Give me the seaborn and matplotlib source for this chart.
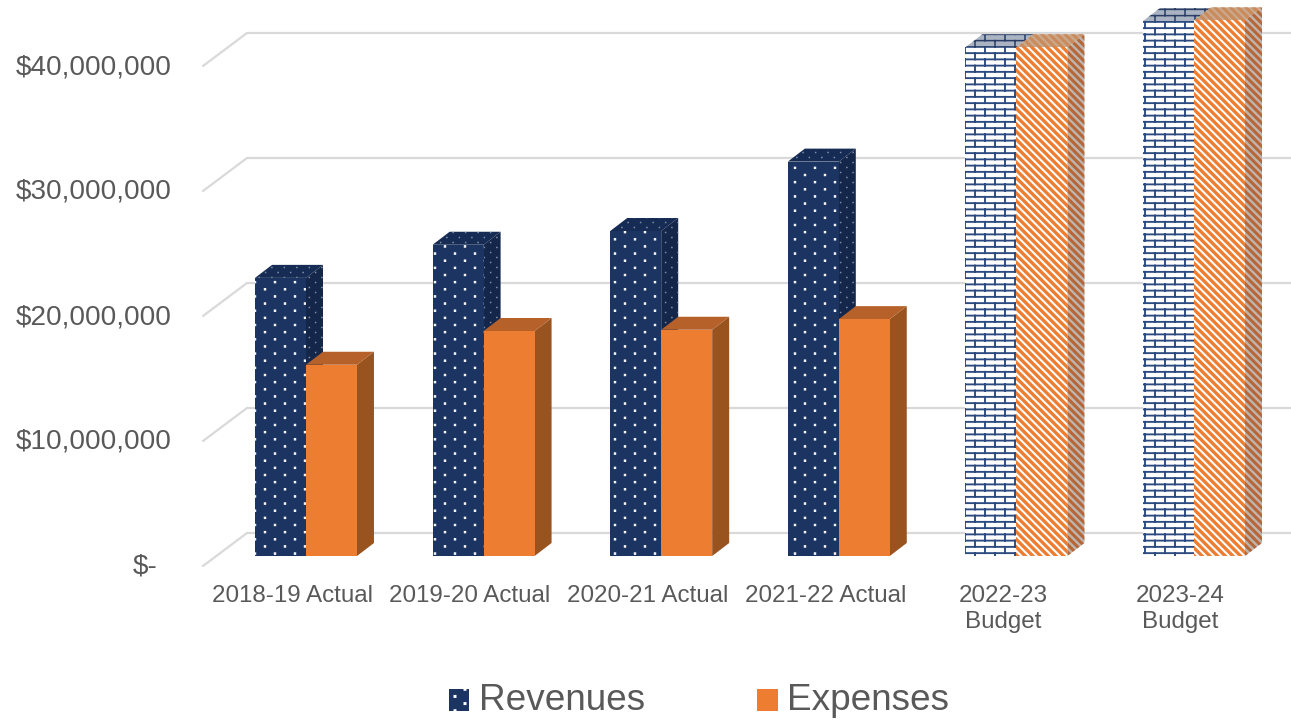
import warnings
import numpy as np
import pandas as pd
import seaborn as sns
import matplotlib
matplotlib.use('Agg')
import matplotlib.pyplot as plt
import matplotlib.hatch as mhatch
from matplotlib.patches import Patch, Polygon
from matplotlib.path import Path
from matplotlib.transforms import ScaledTranslation

warnings.filterwarnings('ignore')

years = ['2018-19 Actual', '2019-20 Actual', '2020-21 Actual', '2021-22 Actual',
         '2022-23\nBudget', '2023-24\nBudget']
revenues = [22.25e6, 24.9e6, 26.0e6, 31.55e6, 40.7e6, 42.8e6]
expenses = [15.3e6, 18.0e6, 18.1e6, 18.95e6, 40.7e6, 42.85e6]
budget_flag = [False, False, False, False, True, True]
tick_values = [0, 10e6, 20e6, 30e6, 40e6]
tick_labels = ['$-', '$10,000,000', '$20,000,000', '$30,000,000', '$40,000,000']

NAVY = '#1c3461'
ORANGE = '#ed7d31'
GREY = '#595959'
W, H, DPI = 1291, 721, 100


# excel style pattern fills, matplotlib has no bricks or staggered dots
class ExcelHatch(mhatch.HatchPatternBase):
    def __init__(self, hatch, density):
        self.segs = []
        self.dots = []
        if 'b' in hatch:
            rows, cols = 16, 5
            for j in range(rows):
                y0, y1 = (j + .5) / rows, (j + 1.5) / rows
                self.segs.append(((0, y0), (1, y0)))
                for k in range(cols):
                    x = (k + (.25 if j % 2 else .75)) / cols
                    self.segs.append(((x, y0), (x, min(y1, 1))))
                    if j == rows - 1:
                        self.segs.append(((x, 0), (x, .5 / rows)))
        if 's' in hatch:
            for s in np.linspace(-1, 1, 27):
                self.segs.append(((s, 1), (s + 1, 0)))
        if 'd' in hatch or 'e' in hatch:
            rows, cols, r = (14, 5, .008) if 'd' in hatch else (20, 8, .004)
            for j in range(rows):
                for k in range(cols):
                    self.dots.append(((k + (.25 if j % 2 else .75)) / cols, (j + .5) / rows, r))
        self.num_vertices = 2 * len(self.segs) + 5 * len(self.dots)

    def set_vertices_and_codes(self, vertices, codes):
        i = 0
        for a, b in self.segs:
            vertices[i] = a
            vertices[i + 1] = b
            codes[i] = Path.MOVETO
            codes[i + 1] = Path.LINETO
            i += 2
        for x, y, r in self.dots:
            vertices[i:i + 5] = [(x - r, y - r), (x + r, y - r), (x + r, y + r), (x - r, y + r), (x - r, y - r)]
            codes[i:i + 5] = [Path.MOVETO, Path.LINETO, Path.LINETO, Path.LINETO, Path.CLOSEPOLY]
            i += 5


mhatch._hatch_types.append(ExcelHatch)

sns.set_theme(style='white')
plt.rcParams['font.family'] = ['Liberation Sans', 'DejaVu Sans']

df = pd.DataFrame({'year': years * 2,
                   'value': revenues + expenses,
                   'series': ['Revenues'] * 6 + ['Expenses'] * 6})

fig = plt.figure(figsize=(W / DPI, H / DPI), dpi=DPI)
# axes: category spacing 177.6 px, 125 px per 10M, baseline at y=556 px
cat_px = 177.6
left = 306 - cat_px / 2
ax = fig.add_axes([left / W, (H - 556) / H, 6 * cat_px / W, 556 / H])
sns.barplot(data=df, x='year', y='value', hue='series', palette=[NAVY, ORANGE],
            width=.574, gap=0, saturation=1, legend=False, ax=ax)
ax.set_xlim(-.5, 5.5)
ax.set_ylim(0, 556 / 125 * 1e7)
ax.set_xlabel('')
ax.set_ylabel('')
sns.despine(ax=ax, left=True, bottom=True)

dx = 1 / cat_px          # one pixel in x data units
dy = 1e7 / 125           # one pixel in y data units

# back wall grid and the floor diagonals
wall_x0 = -(306 - 247) * dx
wall_x1 = (W - 306) * dx
front_x = -(306 - 203) * dx
for v in tick_values:
    back = v + 23 * dy
    front = v - 10 * dy
    ax.plot([front_x, wall_x0, wall_x1], [front, back, back], color='#d9d9d9', lw=1.6,
            clip_on=False, zorder=1, solid_joinstyle='miter')

# bar faces, depth is 17 px across and 13 px up
depth_x, depth_y = 17 * dx, 13 * dy
side_solid = ['#14264a', '#99531f']
top_solid = ['#172c55', '#b6612a']
for s, cont in enumerate(ax.containers):
    z = 3 + s
    for bar, budget in zip(cont.patches, budget_flag):
        x0, x1, h = bar.get_x(), bar.get_x() + bar.get_width(), bar.get_height()
        side = Polygon([(x1, 0), (x1 + depth_x, depth_y), (x1 + depth_x, h + depth_y), (x1, h)],
                       clip_on=False, zorder=z, lw=0)
        top = Polygon([(x0, h), (x0 + depth_x, h + depth_y), (x1 + depth_x, h + depth_y), (x1, h)],
                      clip_on=False, zorder=z, lw=0)
        bar.set_zorder(z + .1)
        bar.set_linewidth(0)
        if budget:
            bar.set_facecolor('white')
            if s == 0:
                bar.set_edgecolor('#2b4a80')
                bar.set_hatch('b')
                bar.set_hatch_linewidth(1.35)
                side.set(facecolor='#b5bcc8', edgecolor='#22385f', hatch='b')
                top.set(facecolor='#aab3c2', edgecolor='#2b3f66', hatch='b')
                side.set_hatch_linewidth(1.1)
                top.set_hatch_linewidth(1.1)
            else:
                bar.set_edgecolor(ORANGE)
                bar.set_hatch('s')
                bar.set_hatch_linewidth(2.4)
                side.set(facecolor='#bdb6b0', edgecolor='#b5673a', hatch='s')
                top.set(facecolor='#c9a88c', edgecolor='#c98a5c', hatch='s')
                side.set_hatch_linewidth(2.2)
                top.set_hatch_linewidth(2.2)
        else:
            side.set_facecolor(side_solid[s])
            top.set_facecolor(top_solid[s])
            if s == 0:
                bar.set_edgecolor('white')
                bar.set_hatch('d')
                bar.set_hatch_linewidth(.6)
                side.set(edgecolor='#7f8da6', hatch='e')
                top.set(edgecolor='#7f8da6', hatch='e')
                side.set_hatch_linewidth(.5)
                top.set_hatch_linewidth(.5)
            else:
                bar.set_edgecolor(ORANGE)
        ax.add_patch(side)
        ax.add_patch(top)

# ticks
ax.set_yticks(tick_values)
ax.set_yticklabels(tick_labels)
ax.tick_params(axis='y', length=0, pad=32.5, labelsize=20.1, labelcolor=GREY)
ax.tick_params(axis='x', length=0, pad=21, labelsize=17.4, labelcolor=GREY)
ax.grid(False)
px = 1 / DPI
for lab, v in zip(ax.get_yticklabels(), tick_values):
    shift_x = -15 * px if v == 0 else 0
    lab.set_transform(lab.get_transform() + ScaledTranslation(shift_x, -8 * px, fig.dpi_scale_trans))
for lab in ax.get_xticklabels():
    lab.set_linespacing(1.25)
    lab.set_transform(lab.get_transform() + ScaledTranslation(-13.5 * px, 0, fig.dpi_scale_trans))

# legend
handles = [Patch(facecolor=NAVY, edgecolor='white', hatch='d', lw=0, label='Revenues'),
           Patch(facecolor=ORANGE, edgecolor=ORANGE, lw=0, label='Expenses')]
leg = fig.legend(handles=handles, loc='center', bbox_to_anchor=(699 / W, 1 - 701 / H), ncol=2, frameon=False,
                 fontsize=26.6, labelcolor=GREY, handlelength=.55, handleheight=.55,
                 handletextpad=.25, columnspacing=3.05, borderpad=0, borderaxespad=0)
for h in leg.legend_handles:
    h.set_y(h.get_y() - 2)

fig.savefig('out.png', dpi=DPI)
